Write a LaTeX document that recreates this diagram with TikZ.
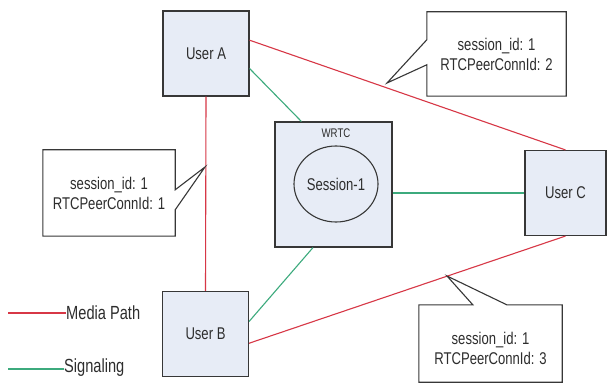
\documentclass[tikz,border=0pt]{standalone}
\usepackage{fontspec}
\setmainfont{Liberation Sans}[FakeStretch=0.77]
\usetikzlibrary{calc,shapes.geometric}
\definecolor{media}{RGB}{215,55,70}
\definecolor{sig}{RGB}{60,170,125}
\definecolor{boxfill}{RGB}{231,236,246}
\definecolor{edge}{RGB}{55,55,55}
\definecolor{txt}{RGB}{45,45,45}
\begin{document}
\begin{tikzpicture}[x=1pt,y=-1pt,
  userbox/.style={draw=edge,line width=1.1pt,fill=boxfill,minimum width=86pt,minimum height=85pt,inner sep=0pt,font=\fontsize{17}{20}\selectfont,text=txt},
  calltext/.style={align=center,font=\fontsize{17}{20}\selectfont,text=txt,inner sep=0pt},
  callshape/.style={draw=edge,line width=1.1pt,fill=white,line join=miter},
  medialine/.style={draw=media,line width=1.1pt},
  sigline/.style={draw=sig,line width=1.1pt},
  legtext/.style={anchor=west,font=\fontsize{19}{22}\selectfont,text=txt,inner sep=0pt}]
\useasboundingbox[fill=white] (0,0) rectangle (607,387);

% nodes
\node[userbox] (A) at (206,53.5) {User A};
\node[userbox] (B) at (205.5,334) {User B};
\node[userbox,minimum width=81pt] (C) at (565.5,193) {User C};
\node[draw=edge,line width=1.1pt,fill=boxfill,minimum width=117pt,minimum height=125pt,inner sep=0pt] (W) at (333.5,184.5) {};
\node[font=\fontsize{12.5}{14}\selectfont,text=txt,inner sep=0pt] (wl) at (336,133) {WRTC};
\node[draw=edge,line width=1.1pt,ellipse,minimum width=84pt,minimum height=76pt,inner sep=0pt,font=\fontsize{17}{20}\selectfont,text=txt] (S) at (336,184) {Session-1};

% media paths
\draw[medialine] (A.17) -- (C.north);
\draw[medialine] (B.-12) -- (C.south);
\draw[medialine] (A.south) -- (B.north);

% signaling
\draw[sigline] (A.-19) -- (W.117);
\draw[sigline] (W.east |- C.west) -- (C.west);
\draw[sigline] (W.-108) -- (B.16);

% callout 2
\coordinate (t2) at (387,83);
\node[minimum width=139pt,minimum height=84pt,inner sep=0pt] (k2) at (496.5,54) {};
\draw[callshape] (k2.north west) -- (k2.north east) -- (k2.south east) -- (k2.south west)
  -- ($(k2.north west)+(0,53)$) -- (t2) -- ($(k2.north west)+(0,28)$) -- cycle;
\node[calltext] (c2) at (k2.center) {session\_id: 1\\RTCPeerConnId: 2};

% callout 1
\coordinate (t1) at (205,167);
\node[minimum width=132pt,minimum height=86pt,inner sep=0pt] (k1) at (109,193) {};
\draw[callshape] (k1.north west) -- (k1.north east) -- ($(k1.north east)+(0,40)$) -- (t1)
  -- ($(k1.north east)+(0,60)$) -- (k1.south east) -- (k1.south west) -- cycle;
\node[calltext] (c1) at (k1.center) {session\_id: 1\\RTCPeerConnId: 1};

% callout 3
\coordinate (t3) at (447,276);
\node[minimum width=143pt,minimum height=77pt,inner sep=0pt] (k3) at (490.5,343.5) {};
\draw[callshape] (k3.north west) -- ($(k3.north west)+(54,0)$) -- (t3) -- ($(k3.north west)+(88,0)$)
  -- (k3.north east) -- (k3.south east) -- (k3.south west) -- cycle;
\node[calltext] (c3) at (490.5,348) {session\_id: 1\\RTCPeerConnId: 3};

% legend
\node[legtext] (lm) at (66,313) {Media Path};
\coordinate (lm0) at (8,313);
\draw[medialine] (lm0) -- (lm.west);
\node[legtext] (ls) at (64,368) {Signaling};
\coordinate (ls0) at (8,369);
\draw[sigline] (ls0) -- (ls.west |- ls0);
\end{tikzpicture}
\end{document}
